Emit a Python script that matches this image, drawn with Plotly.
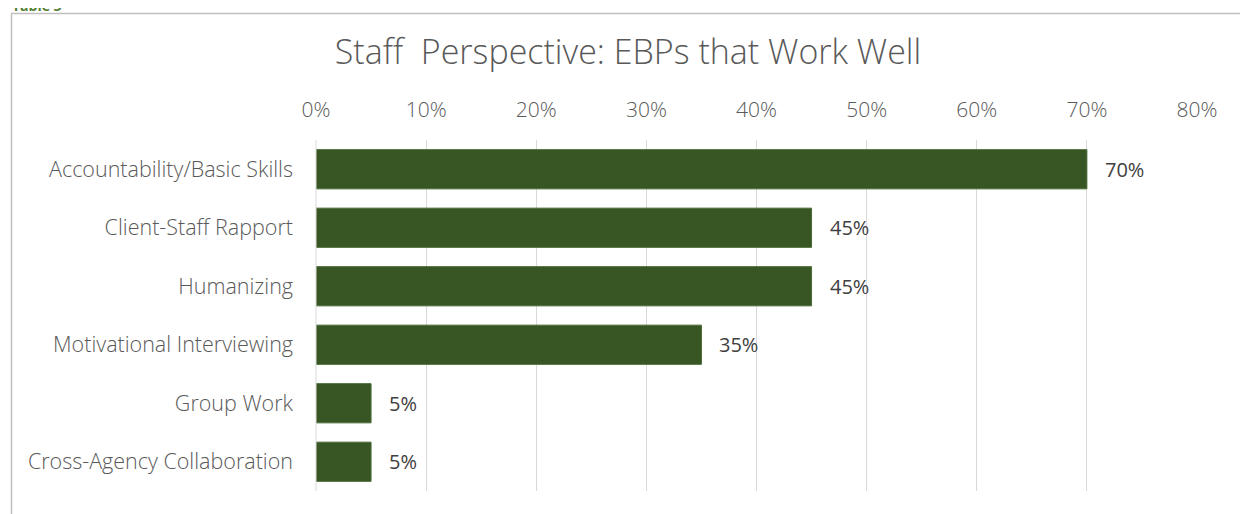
import plotly.graph_objects as go

categories = ["Accountability/Basic Skills", "Client-Staff Rapport", "Humanizing",
              "Motivational Interviewing", "Group Work", "Cross-Agency Collaboration"]
values = [0.70, 0.45, 0.45, 0.35, 0.05, 0.05]
tick_vals = [0, 0.1, 0.2, 0.3, 0.4, 0.5, 0.6, 0.7, 0.8]
tick_text = ["0%", "10%", "20%", "30%", "40%", "50%", "60%", "70%", "80%"]
labels = [f"{round(v*100)}%" for v in values]

FONT = "Open Sans, Lato, sans-serif"
W, H = 1248, 514
OFF = 8  # page body margin
L, R, T, B = 308, 59, 132, 31
pw, ph = W - L - R, H - T - B

def px_x(sx):
    return (sx - OFF - L) / pw

def px_y(sy):
    return (H - B - (sy - OFF)) / ph

fig = go.Figure(go.Bar(
    y=categories, x=values, orientation="h",
    marker=dict(color="#375623", line=dict(color="#4a6b34", width=1)),
    width=0.67, hoverinfo="x+y",
))

annotations = [
    dict(x=v, y=c, xref="x", yref="y", text=t, showarrow=False,
         xanchor="left", xshift=16,
         font=dict(family=FONT, size=20, color="#404040", weight=400))
    for c, v, t in zip(categories, values, labels)
]
annotations.append(
    dict(text="<b>Table 3</b>", xref="paper", yref="paper", x=px_x(10), y=1 + (T + 2) / ph,
         xanchor="left", yanchor="middle", showarrow=False,
         font=dict(family=FONT, size=14, color="#538135")))

fig.update_layout(
    width=W, height=H,
    margin=dict(l=L, r=R, t=T, b=B),
    paper_bgcolor="white", plot_bgcolor="white",
    showlegend=False,
    font=dict(family=FONT, color="#595959"),
    title=dict(text="Staff  Perspective: EBPs that Work Well", x=620 / W, xref="container",
               xanchor="center", y=1 - 44 / H, yanchor="middle",
               font=dict(family=FONT, size=34, color="#595959", weight=300)),
    xaxis=dict(range=[0, 0.8], side="top", tickvals=tick_vals, ticktext=tick_text,
               showgrid=True, gridcolor="#d9d9d9", gridwidth=1, zeroline=False,
               showline=False, ticks="", ticklabelstandoff=18,
               tickfont=dict(family=FONT, size=21, color="#595959", weight=300)),
    yaxis=dict(autorange="reversed", showgrid=False, zeroline=False, showline=False,
               ticks="", ticklabelstandoff=22,
               tickfont=dict(family=FONT, size=21.5, color="#595959", weight=300)),
    bargap=0.33,
    shapes=[
        dict(type="line", xref="paper", yref="paper", x0=0, x1=0, y0=0, y1=1.0,
             line=dict(color="#d9d9d9", width=1)),
        dict(type="rect", xref="paper", yref="paper",
             x0=px_x(11.5), x1=px_x(1245.5), y0=px_y(13.5), y1=px_y(600),
             line=dict(color="#bfbfbf", width=1.5), fillcolor="rgba(0,0,0,0)"),
    ],
    annotations=annotations,
)

fig.write_html("out.html")
